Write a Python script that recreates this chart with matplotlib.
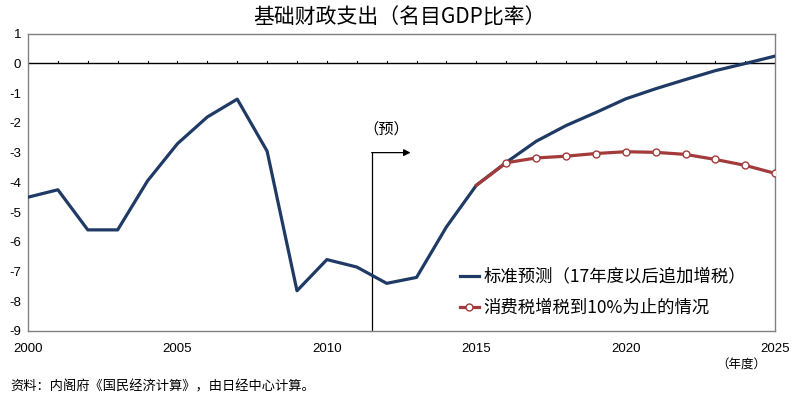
import matplotlib
matplotlib.use("Agg")
import matplotlib.pyplot as plt

plt.rcParams['font.family'] = ['Noto Sans CJK SC', 'DejaVu Sans']

# data (% of nominal GDP)
years = list(range(2000, 2026))
baseline = [-4.5, -4.25, -5.6, -5.6, -3.95, -2.7, -1.8, -1.2, -2.95, -7.65,
            -6.6, -6.85, -7.4, -7.2, -5.5, -4.1, -3.33, -2.62, -2.09, -1.65,
            -1.19, -0.85, -0.54, -0.24, 0.0, 0.25]
tax_years = list(range(2015, 2026))
tax_case = [-4.1, -3.34, -3.18, -3.12, -3.03, -2.97, -2.99, -3.06, -3.23, -3.43, -3.70]

xticks = [2000, 2005, 2010, 2015, 2020, 2025]
yticks = list(range(-9, 2))

blue = '#1f3a64'
red = '#a23b3a'

fig = plt.figure(figsize=(8, 4.07), dpi=100)
ax = fig.add_axes([0.035, 0.187, 0.934, 0.73])

ax.plot(years, baseline, color=blue, lw=2.3, label='标准预测（17年度以后追加增税）', zorder=3)
ax.plot(tax_years, tax_case, color=red, lw=2.3, marker='o', markersize=5,
        markerfacecolor='white', markeredgecolor=red, markeredgewidth=1.0,
        markevery=list(range(1, len(tax_years))),
        label='消费税增税到10%为止的情况', zorder=4)

ax.set_xlim(2000, 2025)
ax.set_ylim(-9, 1)
ax.set_xticks(xticks)
ax.set_xticklabels([str(x) for x in xticks], family=['Liberation Sans', 'DejaVu Sans'])
ax.set_yticks(yticks)
ax.set_yticklabels([str(y) for y in yticks], family=['Liberation Sans', 'DejaVu Sans'])
ax.tick_params(axis='both', length=0, labelsize=9.5)
ax.tick_params(axis='x', pad=9)
ax.tick_params(axis='y', pad=5)

# zero line with small year ticks
ax.axhline(0, color='black', lw=1.0, zorder=2)
for yr in years[1:-1]:
    ax.plot([yr, yr], [0, 0.1], color='black', lw=0.8, zorder=2)

for s in ax.spines.values():
    s.set_color('#808080')
    s.set_linewidth(1.0)

# forecast marker
ax.plot([2011.5, 2011.5], [-9, -3.0], color='black', lw=0.9)
ax.annotate('', xy=(2012.8, -3.0), xytext=(2011.5, -3.0),
            arrowprops=dict(arrowstyle='-|>', color='black', lw=0.9,
                            mutation_scale=10, shrinkA=0, shrinkB=0))
ax.text(2012.0, -2.2, '（预）', ha='center', va='center', fontsize=11)

leg = ax.legend(loc='lower left', bbox_to_anchor=(0.557, -0.005), frameon=False,
                fontsize=12.5, handlelength=1.1, handletextpad=0.25, labelspacing=0.75)

fig.text(0.5, 0.957, '基础财政支出（名目GDP比率）', ha='center', va='center', fontsize=15)
fig.text(0.927, 0.103, '（年度）', ha='center', va='center', fontsize=9)
fig.text(0.013, 0.05, '资料：内阁府《国民经济计算》，由日经中心计算。', ha='left', va='center', fontsize=9.5)

fig.savefig('out.png', dpi=100)
